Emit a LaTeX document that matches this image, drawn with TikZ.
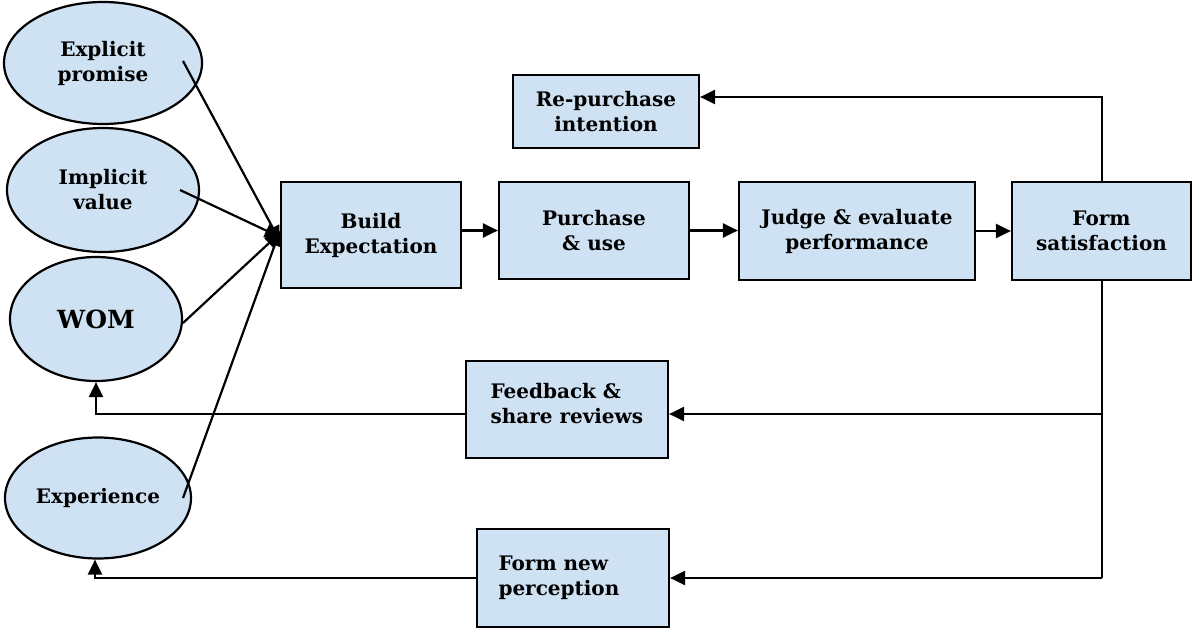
\documentclass[tikz,border=0pt]{standalone}
\usepackage{fontspec}
\setmainfont{DejaVu Serif}
\usetikzlibrary{arrows.meta,shapes.geometric}
\definecolor{boxblue}{HTML}{CFE2F3}
\begin{document}
\begin{tikzpicture}[x=1pt,y=-1pt,
  every node/.style={font=\bfseries\fontsize{20}{25}\selectfont},
  procbox/.style={draw=black,line width=2.2pt,fill=boxblue,align=center,inner sep=0pt},
  oval/.style={draw=black,line width=2.2pt,fill=boxblue,ellipse,align=center,inner sep=0pt},
  conn/.style={line width=2.2pt,-{Triangle[length=15pt,width=14pt]}},
  plain/.style={line width=2.2pt}]
\useasboundingbox (0,0) rectangle (1192,629);
% ovals
\node[oval,minimum width=198,minimum height=122] (ep) at (103,63) {Explicit\\promise};
\node[oval,minimum width=192,minimum height=124] (iv) at (103,190) {Implicit\\value};
\node[oval,minimum width=172,minimum height=124,font=\bfseries\fontsize{25}{30}\selectfont] (wom) at (96,319) {WOM};
\node[oval,minimum width=186,minimum height=121] (ex) at (98,498) {Experience};
% boxes
\node[procbox,minimum width=180,minimum height=106] (be) at (371,235) {Build\\Expectation};
\node[procbox,minimum width=190,minimum height=97] (pu) at (594,230.5) {Purchase\\\& use};
\node[procbox,minimum width=236,minimum height=98] (ju) at (857,231) {Judge \& evaluate\\performance};
\node[procbox,minimum width=179,minimum height=98] (fs) at (1101.5,231) {Form\\satisfaction};
\node[procbox,minimum width=186,minimum height=73] (rp) at (606,111.5) {Re-purchase\\intention};
\node[procbox,minimum width=202,minimum height=97] (fb) at (567,409.5) {};
\node[align=left,anchor=west] at (487,404) {Feedback \&\\share reviews};
\node[procbox,minimum width=192,minimum height=98] (fn) at (573,578) {};
\node[align=left,anchor=west] at (495,578) {Form new\\perception};
% junctions
\coordinate (jtop) at (1102,97);
\coordinate (jmid) at (1102,414);
\coordinate (jbot) at (1102,578);
\coordinate (wl) at (96,414);
\coordinate (el) at (95,578);
% inputs to Build Expectation
\draw[conn] ([xshift=80,yshift=2]ep.center) -- ([yshift=-6]be.west);
\draw[conn] ([xshift=77]iv.center) -- ([yshift=-2]be.west);
\draw[conn] ([xshift=87,yshift=-4]wom.center) -- ([yshift=2]be.west);
\draw[conn] ([xshift=85]ex.center) -- ([yshift=4]be.west);
% main chain
\draw[conn] (be.east |- pu.west) -- (pu.west);
\draw[conn] (pu.east) -- (pu.east -| ju.west);
\draw[conn] (ju.east) -- (fs.west);
% feedback loops
\draw[conn] (fs.north -| jtop) -- (jtop) -- (rp.east |- jtop);
\draw[plain] (fs.south -| jbot) -- (jbot);
\draw[conn] (jmid) -- (fb.east |- jmid);
\draw[conn] (jbot) -- (fn.east |- jbot);
\draw[conn] (fb.west |- wl) -- (wl) -- (wom.south);
\draw[conn] (fn.west |- el) -- (el) -- (ex.south -| el);
\end{tikzpicture}
\end{document}
